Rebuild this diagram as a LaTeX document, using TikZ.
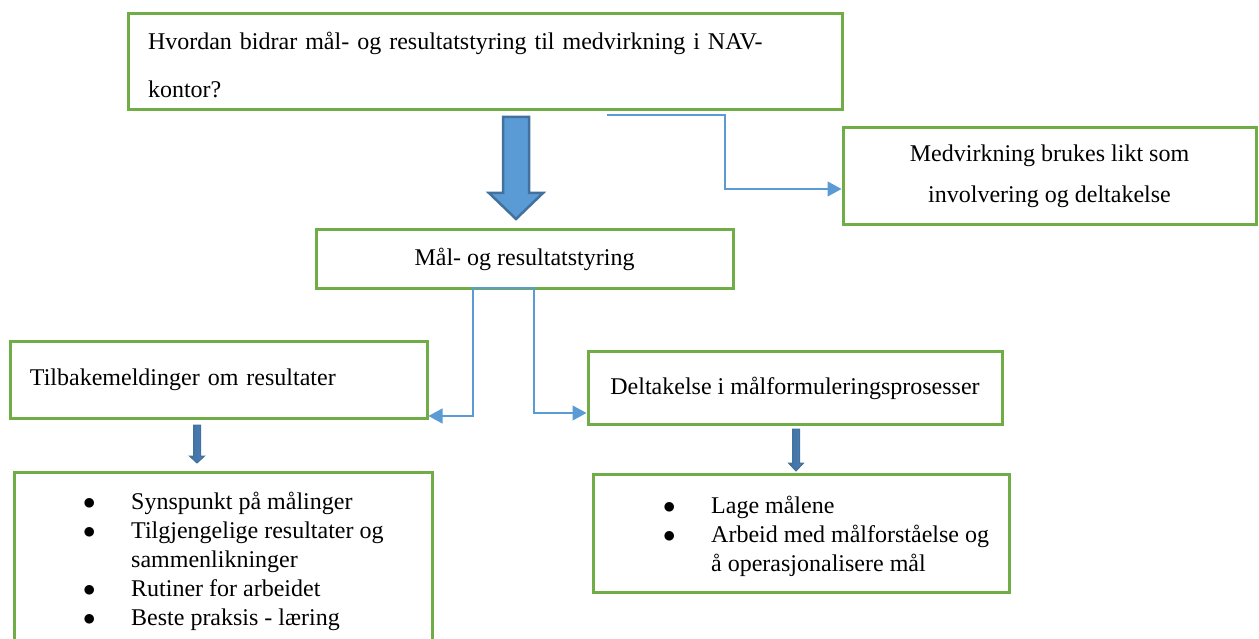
\documentclass[tikz,border=0pt]{standalone}
\usepackage{fontspec}
\setmainfont{Liberation Serif}
\usepackage{xcolor}
\usepackage{tikz}
\usetikzlibrary{arrows.meta}
\definecolor{boxgreen}{HTML}{70AD47}
\definecolor{lineblue}{HTML}{5B9BD5}
\definecolor{arrowblue}{HTML}{5B9BD5}
\definecolor{arrowedge}{HTML}{41719C}
\definecolor{smallblue}{HTML}{4A7EBB}
% style, x, top, head base, tip, shaft half width, head half width
\newcommand{\blkarrow}[7]{\filldraw[#1] (#2-#6,#3) -- (#2+#6,#3) -- (#2+#6,#4) -- (#2+#7,#4) -- (#2,#5) -- (#2-#7,#4) -- (#2-#6,#4) -- cycle;}

\begin{document}
\begin{tikzpicture}[x=1pt,y=-1pt,>=latex]
\tikzstyle{box}=[rectangle,draw=boxgreen,line width=3pt,font=\fontsize{24}{29}\selectfont,inner sep=0pt]
\tikzstyle{conn}=[draw=lineblue,line width=1.2pt,-{Triangle[length=14pt,width=15pt]}]
\tikzstyle{bigarrow}=[fill=arrowblue,draw=arrowedge,line width=2.5pt]
\tikzstyle{smallarrow}=[left color=arrowedge,middle color=lineblue!70!white,right color=smallblue,draw=arrowedge,line width=1pt]
\tikzstyle{bullets}=[anchor=base west,inner sep=0pt,font=\fontsize{24}{29}\selectfont]
\useasboundingbox (0,0) rectangle (1259,639);
\node[box,minimum width=714pt,minimum height=96pt,text width=674pt,align=left,font=\fontsize{24}{48}\selectfont] (q) at (485,62) {\rule{0pt}{23pt}Hvordan bidrar mål- og resultatstyring til medvirkning i NAV-\\kontor?};
\node[box,minimum width=413pt,minimum height=97pt,align=center,font=\fontsize{24}{41}\selectfont] (m) at (1049.5,176.5) {Medvirkning brukes likt som\\involvering og deltakelse};
\node[box,minimum width=417pt,minimum height=59pt] (s) at (524.5,259.5) {Mål- og resultatstyring};
\node[box,minimum width=417pt,minimum height=77pt,text width=377pt,align=left] (t) at (218.5,379.5) {Tilbakemeldinger om resultater};
\node[box,minimum width=414pt,minimum height=73pt] (d) at (795,388) {Deltakelse i målformuleringsprosesser};
\node[box,minimum width=418pt,minimum height=188pt] (l) at (223,566) {};
\node[box,minimum width=416pt,minimum height=118pt] (r) at (801,533) {};
\node[bullets] (ltext) at (83,509) {\begin{tabular}[t]{@{}p{48pt}@{}l@{}}
$\bullet$&Synspunkt på målinger\\
$\bullet$&Tilgjengelige resultater og\\
&sammenlikninger\\
$\bullet$&Rutiner for arbeidet\\
$\bullet$&Beste praksis - læring
\end{tabular}};
\node[bullets] (rtext) at (663,513) {\begin{tabular}[t]{@{}p{48pt}@{}l@{}}
$\bullet$&Lage målene\\
$\bullet$&Arbeid med målforståelse og\\
&å operasjonalisere mål
\end{tabular}};
\coordinate (q1) at (607,115);
\coordinate (s1) at (483,288);
\draw[conn] (q1) -- ++(118,0) |- ([yshift=-12.5pt]m.west);
\draw[conn] (s1) -- ++(-10,0) |- ([yshift=-36.5pt]t.east);
\draw[conn] (s1) -- ++(51,0) |- ([yshift=-25pt]d.west);
\blkarrow{bigarrow}{516}{117}{193}{219}{13}{27}
\blkarrow{smallarrow}{197}{425}{456}{463}{3.5}{7.5}
\blkarrow{smallarrow}{796}{429}{463}{471}{3.5}{7.5}
\end{tikzpicture}
\end{document}
